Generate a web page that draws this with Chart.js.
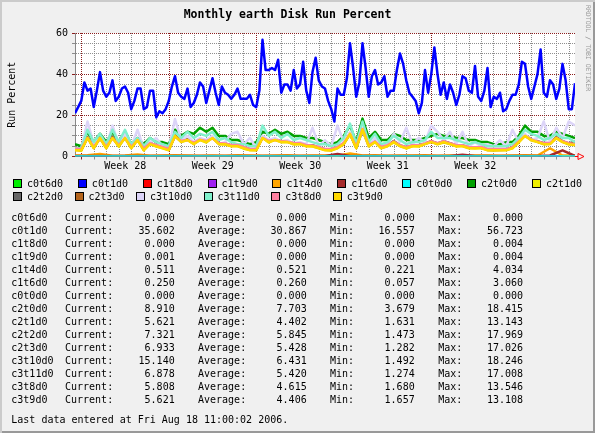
<!DOCTYPE html>
<html>
<head>
<meta charset="utf-8">
<script src="https://cdn.jsdelivr.net/npm/chart.js@4.4.1/dist/chart.umd.min.js"></script>
<style>
  body { margin: 0; background: #fff; }
  #graph {
    position: relative; width: 595px; height: 433px; background: #f0f0f0;
    box-shadow: inset 2px 2px 0 #cbcbcb, inset -2px -2px 0 #999;
    font-family: "DejaVu Sans Mono", monospace; font-size: 10px; color: #000;
  }
  #graph canvas { position: absolute; left: 0; top: 0; }
  .legend-row { position: absolute; display: flex; height: 13px; line-height: 13px; }
  .item { display: flex; align-items: center; white-space: pre; }
  .box { width: 7px; height: 7px; border: 1px solid #000; margin-right: 5px; }
  .cell { position: absolute; height: 13px; line-height: 13px; white-space: pre; }
  #credit {
    position: absolute; left: 584px; top: 5px; writing-mode: vertical-rl;
    font-size: 6.5px; line-height: 8px; color: #999;
  }
</style>
</head>
<body>
<div id="graph">
  <canvas id="disk-chart" width="595" height="433"></canvas>
  <div id="credit">RRDTOOL / TOBI OETIKER</div>
</div>
<script>
/* time axis: days from the left edge of the graph */
let DAYS = 40
let FIRST_MIDNIGHT = 0.52
let weekLabels = ['Week 28', 'Week 29', 'Week 30', 'Week 31', 'Week 32']

/* series names and colours, in rrdtool draw order */
let diskNames = ['c0t6d0', 'c0t1d0', 'c1t8d0', 'c1t9d0', 'c1t4d0', 'c1t6d0', 'c0t0d0', 'c2t0d0',
    'c2t1d0', 'c2t2d0', 'c2t3d0', 'c3t10d0', 'c3t11d0', 'c3t8d0', 'c3t9d0']
let diskColors = ['#00ee00', '#0000ff', '#ff0000', '#a020f0', '#ffa500', '#a52a2a', '#00ffff', '#00a000',
    '#eeee00', '#666666', '#b5651d', '#dcd4f8', '#80f0cc', '#ff80a0', '#ffd800']

/* values, evenly spaced across the 40 days */
let c0t6d0 = [0, 0]
let c0t1d0 = [
    21, 24, 27, 36, 32, 33, 24, 32, 41, 32, 29, 31, 37, 27, 29, 33, 34, 31, 23, 27,
    33, 33, 23, 24, 32, 32, 19, 22, 21, 23, 27, 34, 39, 31, 29, 28, 33, 24, 26, 30,
    36, 34, 26, 32, 38, 31, 25, 34, 31, 30, 28, 30, 33, 28, 28, 28, 30, 25, 24, 32,
    56.7, 42, 42, 43, 42, 47, 31, 35, 35, 32, 42, 33, 35, 46, 32, 26, 41, 48, 37, 34,
    33, 27, 23, 17, 33, 30, 30, 38, 55, 43, 29, 36, 55, 43, 29, 39, 42, 35, 36, 39,
    29, 32, 32, 42, 50, 45, 37, 31, 29, 27, 21, 26, 42, 31, 40, 53, 40, 30, 36, 28,
    35, 31, 25, 30, 39, 38, 32, 31, 44, 29, 27, 32, 43, 24, 29, 28, 31, 22, 23, 27,
    30, 30, 35, 46, 45, 34, 28, 34, 40, 52, 31, 29, 37, 35, 28, 33, 45, 37, 23, 23,
    35.6]
let c1t8d0 = [0, 0]
let c1t9d0 = [0, 0]
let c1t4d0 = [
    0.5, 0.6, 1.2, 0.4, 0.5, 1.0, 0.4, 0.5, 0.6, 0.5, 0.4, 0.5, 0.4, 0.6, 0.5, 0.4, 0.5, 0.6, 0.4, 0.5,
    0.5, 0.4, 1.5, 0.5, 0.6, 0.4, 0.5, 0.5, 0.6, 0.4, 0.5, 0.4, 0.5, 0.5, 0.4, 0.5, 0.6, 0.5, 4.0, 0.5,
    0.5]
let c1t6d0 = [
    0.2, 0.3, 0.3, 0.2, 0.3, 0.2, 0.2, 0.3, 0.2, 0.2, 0.2, 0.3, 0.2, 0.2, 0.3, 0.2, 0.2, 0.2, 0.3, 0.2,
    0.2, 1.2, 0.3, 0.2, 0.2, 0.2, 0.3, 0.2, 0.2, 0.2, 0.2, 0.8, 0.2, 0.3, 0.2, 0.2, 0.2, 0.3, 0.5, 3.0,
    0.25]
let c0t0d0 = [0, 0]
let c2t0d0 = [
    6, 5, 12, 7, 11, 7, 12, 7, 12, 6, 9, 6, 9, 7, 7, 6, 13, 10, 12, 11,
    14, 12, 14, 10, 10, 8, 8, 7, 6, 7, 12, 11, 13, 11, 12, 10, 10, 9, 9, 8,
    7, 6, 7, 10, 15, 7, 18.4, 9, 12, 8, 8, 11, 10, 8, 8, 8, 9, 10, 11, 10,
    10, 9, 9, 8, 8, 7, 7, 6, 6, 7, 7, 10, 15, 12, 12, 10, 10, 12, 11, 10,
    8.9]
let c2t1d0 = [
    3.2, 2.8, 9.3, 4.2, 8.8, 4.1, 9.2, 4.8, 9.1, 4.2, 8.2, 3.1, 6.3, 4.8, 4.1, 3.2, 9.8, 7.2, 8.1, 6.2,
    8.1, 6.8, 9.2, 6.1, 5.8, 5.1, 5.2, 3.8, 3.1, 3.2, 9.1, 6.8, 8.2, 6.9, 7.1, 5.8, 6.2, 5.1, 4.8, 4.1,
    3.2, 2.9, 4.1, 6.2, 10.8, 4.1, 13.1, 4.9, 7.2, 4.1, 5.1, 6.8, 5.2, 3.9, 5.1, 4.8, 6.1, 7.2, 5.9, 6.8,
    6.1, 4.9, 5.2, 4.1, 3.9, 4.2, 3.1, 2.9, 3.2, 3.1, 4.1, 6.8, 10.2, 7.8, 7.1, 5.9, 6.2, 8.8, 7.1, 5.8,
    5.62]
let c2t2d0 = [
    3.5, 3.4, 9.4, 4.5, 9.2, 4.6, 9.5, 5.4, 9.4, 4.5, 8.4, 3.5, 6.6, 5.4, 4.5, 3.4, 10.3, 7.5, 8.4, 6.5,
    8.5, 7.4, 9.4, 6.5, 6.4, 5.4, 5.5, 4.4, 3.5, 3.4, 9.4, 7.5, 8.4, 7.4, 7.5, 6.4, 6.5, 5.4, 5.5, 4.4,
    3.5, 3.4, 4.5, 6.4, 11.3, 4.5, 13, 5.4, 7.5, 4.4, 5.4, 7.5, 5.4, 4.5, 5.4, 5.5, 6.4, 7.5, 6.4, 7.4,
    6.5, 5.4, 5.4, 4.5, 4.4, 4.5, 3.4, 3.5, 3.4, 3.5, 4.4, 7.5, 10.4, 8.4, 7.4, 6.5, 6.4, 9.4, 7.5, 6.4,
    7.3]
let c2t3d0 = [
    3.3, 3.2, 9.2, 4.3, 9.1, 4.3, 9.3, 5.2, 9.2, 4.3, 8.2, 3.3, 6.4, 5.2, 4.3, 3.2, 10.1, 7.3, 8.2, 6.3,
    8.3, 7.2, 9.2, 6.3, 6.2, 5.2, 5.3, 4.2, 3.3, 3.2, 9.2, 7.3, 8.2, 7.2, 7.3, 6.2, 6.3, 5.2, 5.3, 4.2,
    3.3, 3.2, 4.3, 6.2, 11.1, 4.3, 12.8, 5.2, 7.3, 4.2, 5.2, 7.3, 5.2, 4.3, 5.2, 5.3, 6.2, 7.3, 6.2, 7.2,
    6.3, 5.2, 5.2, 4.3, 4.2, 4.3, 3.2, 3.3, 3.2, 3.3, 4.2, 7.3, 10.2, 8.2, 7.2, 6.3, 6.2, 9.2, 7.3, 6.2,
    6.9]
let c3t10d0 = [
    4, 4, 17, 6, 9, 5, 15, 6, 11, 5, 13, 4, 7, 9, 5, 4, 18.2, 8, 10, 7,
    9, 8, 10, 6, 7, 11, 12, 6, 9, 4, 10, 8, 9, 7, 8, 6, 7, 6, 14, 5,
    8, 5, 15, 7, 12, 5, 13, 5, 9, 5, 6, 11, 7, 14, 6, 9, 7, 15, 12, 8,
    12, 6, 12, 5, 7, 5, 6, 5, 8, 5, 13, 7, 11, 8, 9, 17, 7, 14, 9, 17,
    15.1]
let c3t11d0 = [
    4, 4, 13, 7, 11, 6, 13, 7, 13, 6, 9, 5, 9, 7, 6, 5, 12, 9, 12, 9,
    11, 10, 12, 8, 9, 7, 6, 6, 5, 5, 15, 10, 12, 9, 11, 8, 9, 8, 7, 6,
    6, 5, 6, 9, 16, 6, 17, 7, 11, 6, 7, 10, 8, 6, 7, 7, 8, 12, 9, 9,
    9, 8, 7, 6, 7, 6, 5, 5, 5, 5, 6, 9, 13, 11, 10, 8, 9, 11, 9, 9,
    6.9]
let c3t8d0 = [
    3.8, 3.6, 9, 4.8, 8.6, 4.9, 8.8, 5.6, 8.9, 4.7, 8, 3.9, 6.5, 5.6, 4.7, 3.8, 9.6, 7.6, 8, 6.7,
    8.2, 7.5, 8.8, 6.6, 6.3, 5.6, 5.6, 4.6, 3.7, 3.6, 9, 7.6, 8, 7.5, 7.2, 6.6, 6.4, 5.6, 5.4, 4.6,
    3.6, 3.7, 4.6, 6.6, 11, 4.8, 13.5, 5.6, 7.2, 4.7, 5.5, 7.3, 5.5, 4.6, 5.5, 5.5, 6.3, 7.4, 6.5, 7.4,
    6.4, 5.6, 5.5, 4.6, 4.5, 4.6, 3.7, 3.6, 3.6, 3.6, 4.5, 7.3, 10, 8.2, 7.3, 6.5, 6.5, 9, 7.4, 6.5,
    5.8]
let c3t9d0 = [
    3, 3, 9, 4, 9, 4, 9, 5, 9, 4, 8, 3, 6, 5, 4, 3, 10, 7, 8, 6,
    8, 7, 9, 6, 6, 5, 5, 4, 3, 3, 9, 7, 8, 7, 7, 6, 6, 5, 5, 4,
    3, 3, 4, 6, 11, 4, 13.1, 5, 7, 4, 5, 7, 5, 4, 5, 5, 6, 7, 6, 7,
    6, 5, 5, 4, 4, 4, 3, 3, 3, 3, 4, 7, 10, 8, 7, 6, 6, 9, 7, 6,
    5.6]

let diskValues = [c0t6d0, c0t1d0, c1t8d0, c1t9d0, c1t4d0, c1t6d0, c0t0d0, c2t0d0,
    c2t1d0, c2t2d0, c2t3d0, c3t10d0, c3t11d0, c3t8d0, c3t9d0]

/* GPRINT figures */
let statCurrent = [0.000, 35.602, 0.000, 0.001, 0.511, 0.250, 0.000, 8.910, 5.621, 7.321, 6.933, 15.140, 6.878, 5.808, 5.621]
let statAverage = [0.000, 30.867, 0.000, 0.000, 0.521, 0.260, 0.000, 7.703, 4.402, 5.845, 5.428, 6.431, 5.420, 4.615, 4.406]
let statMin = [0.000, 16.557, 0.000, 0.000, 0.221, 0.057, 0.000, 3.679, 1.631, 1.473, 1.282, 1.492, 1.274, 1.680, 1.657]
let statMax = [0.000, 56.723, 0.004, 0.004, 4.034, 3.060, 0.000, 18.415, 13.143, 17.969, 17.026, 18.246, 17.008, 13.546, 13.108]
let lastUpdate = 'Last data entered at Fri Aug 18 11:00:02 2006.'

let FONT = '"DejaVu Sans Mono", monospace'
let GRID = 'rgba(130,130,130,0.9)'
let MGRID = '#8b1e1e'

// spread each list of readings evenly over the time axis
function toPoints(values) {
    let step = DAYS / (values.length - 1)
    return values.map(function(v, i) { return { x: i * step, y: v } })
}

// white canvas behind the plot, like rrdtool's CANVAS colour
let plotBackground = {
    id: 'plotBackground',
    beforeDraw: function(chart) {
        let a = chart.chartArea
        chart.ctx.save()
        chart.ctx.fillStyle = '#ffffff'
        chart.ctx.fillRect(a.left, a.top, a.right - a.left, a.bottom - a.top)
        chart.ctx.restore()
    }
}

// the little red arrow at the end of the time axis
let axisArrow = {
    id: 'axisArrow',
    afterDraw: function(chart) {
        let c = chart.ctx
        let x = chart.chartArea.right
        let y = Math.floor(chart.chartArea.bottom) + 0.5
        c.save()
        c.strokeStyle = '#ff0000'
        c.lineWidth = 1
        c.beginPath()
        c.moveTo(x, y)
        c.lineTo(x + 3, y)
        c.moveTo(x + 3, y - 3)
        c.lineTo(x + 9, y)
        c.lineTo(x + 3, y + 3)
        c.closePath()
        c.stroke()
        c.restore()
    }
}

let datasets = diskNames.map(function(name, i) {
    return {
        label: name,
        data: toPoints(diskValues[i]),
        borderColor: diskColors[i],
        backgroundColor: diskColors[i],
        borderWidth: 2.5,
        pointRadius: 0,
        borderJoinStyle: 'round',
        tension: 0,
        order: diskNames.length - i
    }
})

let ctx = document.querySelector('#disk-chart').getContext('2d')

let diskChart = new Chart(ctx, {
    type: 'line',
    data: { datasets: datasets },
    options: {
        responsive: false,
        animation: false,
        devicePixelRatio: 1,
        layout: { padding: { left: 0, right: 20, top: 0, bottom: 256.5 } },
        plugins: {
            legend: { display: false },
            tooltip: { enabled: false },
            title: {
                display: true,
                text: 'Monthly earth Disk Run Percent',
                color: '#000',
                font: { family: FONT, size: 11.5, weight: 'bold', lineHeight: 1.2 },
                padding: { top: 8, bottom: 11.2 }
            }
        },
        scales: {
            x: {
                type: 'linear',
                min: 0,
                max: DAYS,
                afterBuildTicks: function(scale) {
                    let ticks = []
                    for (let d = FIRST_MIDNIGHT; d < DAYS; d += 1) ticks.push({ value: d })
                    weekLabels.forEach(function(w, i) {
                        ticks.push({ value: FIRST_MIDNIGHT + 7 * i + 3.5, week: w })
                    })
                    ticks.sort(function(a, b) { return a.value - b.value })
                    scale.ticks = ticks
                },
                afterFit: function(scale) { scale.height = 20 },
                ticks: {
                    autoSkip: false,
                    maxRotation: 0,
                    padding: 1,
                    color: '#000',
                    font: { family: FONT, size: 10 },
                    callback: function(value, index, ticks) { return ticks[index].week || '' }
                },
                grid: {
                    tickLength: 3,
                    color: function(c) {
                        if (!c.tick) return GRID
                        if (c.tick.week) return 'rgba(0,0,0,0)'
                        let day = Math.round(c.tick.value - FIRST_MIDNIGHT)
                        return day % 7 === 0 ? MGRID : GRID
                    }
                },
                border: { display: true, color: '#888', width: 1, dash: [1, 1] }
            },
            y: {
                min: 0,
                max: 60,
                afterFit: function(scale) { scale.width = 75 },
                ticks: {
                    stepSize: 5,
                    autoSkip: false,
                    padding: 4,
                    color: '#000',
                    font: { family: FONT, size: 10 },
                    callback: function(value) { return value % 20 === 0 ? value : '' }
                },
                grid: {
                    tickLength: 3,
                    color: function(c) {
                        if (!c.tick) return GRID
                        return c.tick.value % 20 === 0 ? MGRID : GRID
                    }
                },
                border: { display: true, color: '#888', width: 1, dash: [1, 1] },
                title: {
                    display: true,
                    text: 'Run Percent',
                    color: '#000',
                    font: { family: FONT, size: 10 },
                    padding: { top: 6, bottom: 0 }
                }
            }
        }
    },
    plugins: [plotBackground, axisArrow]
})

/* legend: two rows of colour boxes, like rrdtool's COMMENT line */
let graph = document.querySelector('#graph')

function legendItem(i) {
    let item = document.createElement('div')
    item.className = 'item'
    let box = document.createElement('div')
    box.className = 'box'
    box.style.background = diskColors[i]
    item.appendChild(box)
    item.appendChild(document.createTextNode(diskNames[i]))
    return item
}

let row1 = document.createElement('div')
row1.className = 'legend-row'
row1.style.cssText = 'left:13px;top:177px;width:569px;justify-content:space-between'
let row2 = document.createElement('div')
row2.className = 'legend-row'
row2.style.cssText = 'left:13px;top:189.5px;gap:11.4px'
diskNames.forEach(function(name, i) {
    (i < 9 ? row1 : row2).appendChild(legendItem(i))
})
graph.appendChild(row1)
graph.appendChild(row2)

/* GPRINT table */
function addCell(text, x, top, alignRight) {
    let cell = document.createElement('div')
    cell.className = 'cell'
    cell.textContent = text
    cell.style.top = top + 'px'
    if (alignRight) {
        cell.style.left = (x - 60) + 'px'
        cell.style.width = '60px'
        cell.style.textAlign = 'right'
    } else {
        cell.style.left = x + 'px'
    }
    graph.appendChild(cell)
}

diskNames.forEach(function(name, i) {
    let top = 210.5 + 13 * i
    addCell(name, 11.3, top)
    addCell('Current:', 65, top)
    addCell(statCurrent[i].toFixed(3), 174.7, top, true)
    addCell('Average:', 198, top)
    addCell(statAverage[i].toFixed(3), 306.7, top, true)
    addCell('Min:', 330, top)
    addCell(statMin[i].toFixed(3), 414.7, top, true)
    addCell('Max:', 438.3, top)
    addCell(statMax[i].toFixed(3), 523, top, true)
})
addCell(lastUpdate, 11.3, 412.5)
</script>
</body>
</html>
